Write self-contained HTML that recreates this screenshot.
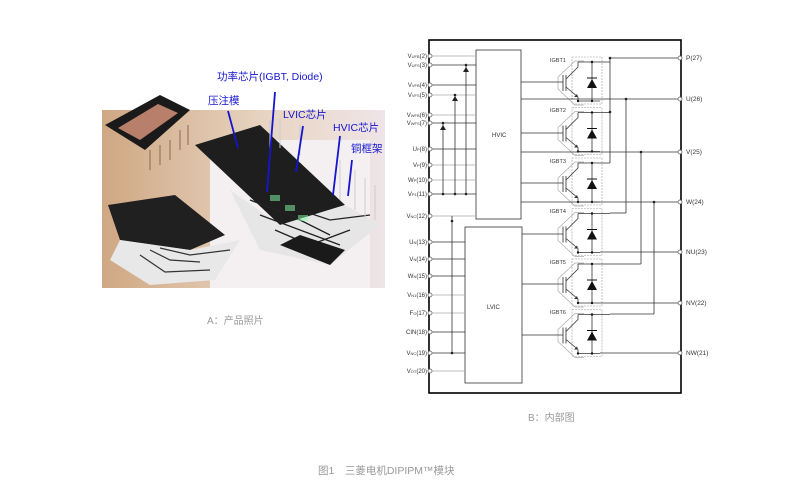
<!DOCTYPE html>
<html><head><meta charset="utf-8"><style>
body{margin:0;background:#fff;width:800px;height:492px;overflow:hidden;font-family:"Liberation Sans","Noto Sans CJK SC",sans-serif}
</style></head><body>
<svg width="800" height="492" xmlns="http://www.w3.org/2000/svg" font-family="Liberation Sans, Noto Sans CJK SC, sans-serif">
<defs>
<linearGradient id="bg" x1="0" y1="0" x2="1" y2="0">
<stop offset="0" stop-color="#cfa783"/><stop offset="0.6" stop-color="#e8d6c4"/><stop offset="1" stop-color="#efe4e8"/>
</linearGradient>
<g id="blk">
<rect x="572" y="0" width="30" height="47" fill="none" stroke="#999" stroke-width="0.6" stroke-dasharray="2,1"/>
<path d="M558 20 L575 4 L584 4 M558 20 L558 32 L575 48 L584 48" fill="none" stroke="#aaa" stroke-width="0.7"/>
<line x1="563" y1="18" x2="563" y2="34" stroke="#555" stroke-width="1"/>
<line x1="566" y1="18" x2="566" y2="34" stroke="#555" stroke-width="1"/>
<path d="M566 22 L578 10 L578 5 M566 30 L578 40 L578 44" fill="none" stroke="#333" stroke-width="0.8"/>
<polygon points="578,40 574,40 577,37" fill="#333"/>
<line x1="578" y1="5" x2="610" y2="5" stroke="#333" stroke-width="0.8"/>
<line x1="578" y1="44" x2="600" y2="44" stroke="#333" stroke-width="0.8"/>
<line x1="592" y1="5" x2="592" y2="44" stroke="#333" stroke-width="0.8"/>
<polygon points="587,31 597,31 592,22" fill="#111"/>
<line x1="587" y1="21" x2="597" y2="21" stroke="#111" stroke-width="1"/>
<circle cx="592" cy="5" r="1.2" fill="#111"/><circle cx="592" cy="44" r="1.2" fill="#111"/><circle cx="578" cy="44" r="1.2" fill="#111"/>
</g>
</defs>

<!-- Photo -->
<rect x="102" y="110" width="283" height="178" fill="url(#bg)"/>
<rect x="210" y="140" width="160" height="148" fill="#f4f0f2"/>
<polygon points="105,125 160,95 190,110 145,150" fill="#1a1a1a"/>
<polygon points="118,128 158,104 178,113 140,140" fill="#b8806a"/>
<g stroke="#8a6a4a" stroke-width="1"><line x1="150" y1="150" x2="150" y2="170"/><line x1="160" y1="145" x2="160" y2="165"/><line x1="170" y1="140" x2="170" y2="160"/><line x1="180" y1="130" x2="180" y2="150"/><line x1="188" y1="125" x2="188" y2="145"/></g>
<polygon points="108,205 175,195 225,235 190,250 120,240" fill="#202020"/>
<polygon points="120,240 190,250 240,240 215,280 150,285 110,260" fill="#e8e8e8"/>
<g stroke="#333" stroke-width="1.2" fill="none"><path d="M150 250 L170 260 L200 262"/><path d="M140 255 L165 272 L210 270"/><path d="M160 248 L190 255 L230 250"/></g>
<polygon points="195,145 260,125 345,205 280,225" fill="#1e1e1e"/>
<polygon points="230,190 280,225 345,205 380,225 330,265 260,250" fill="#e6e6e6"/>
<g stroke="#222" stroke-width="1.3" fill="none"><path d="M250 200 L290 215 L330 235"/><path d="M260 215 L300 230 L340 245"/><path d="M275 230 L310 245 L350 230"/><path d="M300 210 L330 220 L370 215"/></g>
<g fill="#8fa" opacity="0.5"><rect x="270" y="195" width="10" height="6"/><rect x="285" y="205" width="10" height="6"/><rect x="298" y="215" width="10" height="6"/></g>
<polygon points="280,245 330,265 345,250 300,235" fill="#1a1a1a"/>
<g stroke="#ccc" stroke-width="1"><line x1="270" y1="120" x2="270" y2="150"/><line x1="280" y1="118" x2="280" y2="148"/><line x1="300" y1="125" x2="300" y2="155"/><line x1="340" y1="160" x2="340" y2="200"/><line x1="355" y1="170" x2="355" y2="210"/><line x1="365" y1="178" x2="365" y2="218"/><line x1="375" y1="185" x2="375" y2="220"/></g>
<g stroke="#1515d0" stroke-width="1.8"><line x1="228" y1="111" x2="238" y2="148"/><line x1="275" y1="92" x2="267" y2="192"/><line x1="303" y1="126" x2="296" y2="172"/><line x1="340" y1="136" x2="333" y2="195"/><line x1="352" y1="160" x2="348" y2="196"/></g>
<g fill="#1515d0" font-size="10.5"><text x="217" y="80">功率芯片(IGBT, Diode)</text><text x="208" y="104">压注模</text><text x="283" y="118">LVIC芯片</text><text x="333" y="131">HVIC芯片</text><text x="351" y="152">铜框架</text></g>

<text x="207" y="324" font-size="10" fill="#999">A：产品照片</text>
<text x="528" y="421" font-size="10" fill="#999">B：内部图</text>
<text x="318" y="474" font-size="10.5" fill="#999">图1　三菱电机DIPIPM™模块</text>

<!-- Schematic -->
<rect x="429" y="40" width="252" height="353" fill="none" stroke="#000" stroke-width="1.6"/>
<rect x="476" y="50" width="45" height="169" fill="#fff" stroke="#333" stroke-width="0.8"/>
<rect x="465" y="227" width="57" height="156" fill="#fff" stroke="#333" stroke-width="0.8"/>
<text x="492" y="137" font-size="6" fill="#333">HVIC</text>
<text x="487" y="309" font-size="6" fill="#333">LVIC</text>

<g stroke="#aaa" stroke-width="0.8">
<line x1="430" y1="56" x2="476" y2="56"/><line x1="430" y1="95" x2="476" y2="95"/><line x1="430" y1="115" x2="476" y2="115"/>
<line x1="430" y1="165" x2="476" y2="165"/><line x1="430" y1="180" x2="476" y2="180"/><line x1="430" y1="216" x2="476" y2="216"/>
<line x1="430" y1="295" x2="465" y2="295"/><line x1="430" y1="313" x2="465" y2="313"/><line x1="430" y1="371" x2="465" y2="371"/>
</g>
<g stroke="#333" stroke-width="0.8">
<line x1="430" y1="65" x2="476" y2="65"/><line x1="430" y1="85" x2="476" y2="85"/><line x1="430" y1="123" x2="476" y2="123"/>
<line x1="430" y1="149" x2="476" y2="149"/><line x1="430" y1="194" x2="476" y2="194"/>
<line x1="430" y1="242" x2="465" y2="242"/><line x1="430" y1="259" x2="465" y2="259"/><line x1="430" y1="276" x2="465" y2="276"/>
<line x1="430" y1="332" x2="465" y2="332"/><line x1="430" y1="353" x2="465" y2="353"/>
<line x1="443" y1="123" x2="443" y2="194"/><line x1="455" y1="95" x2="455" y2="194"/><line x1="466" y1="65" x2="466" y2="194"/>
<line x1="452" y1="216" x2="452" y2="353"/>
</g>
<g fill="#222"><polygon points="463,72 469,72 466,67"/><polygon points="452,101 458,101 455,96"/><polygon points="440,130 446,130 443,125"/>
<circle cx="443" cy="194" r="1.3"/><circle cx="455" cy="194" r="1.3"/><circle cx="466" cy="194" r="1.3"/><circle cx="452" cy="221" r="1.3"/><circle cx="452" cy="353" r="1.3"/><circle cx="466" cy="65" r="1.3"/><circle cx="455" cy="95" r="1.3"/><circle cx="443" cy="123" r="1.3"/></g>

<g fill="#fff" stroke="#555" stroke-width="0.7">
<circle cx="430" cy="56" r="2"/><circle cx="430" cy="65" r="2"/><circle cx="430" cy="85" r="2"/><circle cx="430" cy="95" r="2"/><circle cx="430" cy="115" r="2"/><circle cx="430" cy="123" r="2"/><circle cx="430" cy="149" r="2"/><circle cx="430" cy="165" r="2"/><circle cx="430" cy="180" r="2"/><circle cx="430" cy="194" r="2"/><circle cx="430" cy="216" r="2"/><circle cx="430" cy="242" r="2"/><circle cx="430" cy="259" r="2"/><circle cx="430" cy="276" r="2"/><circle cx="430" cy="295" r="2"/><circle cx="430" cy="313" r="2"/><circle cx="430" cy="332" r="2"/><circle cx="430" cy="353" r="2"/><circle cx="430" cy="371" r="2"/>
</g>
<g font-size="6" fill="#333" text-anchor="end">
<text x="427" y="58">V<tspan font-size="4">UFB</tspan>(2)</text><text x="427" y="67">V<tspan font-size="4">UFS</tspan>(3)</text>
<text x="427" y="87">V<tspan font-size="4">VFB</tspan>(4)</text><text x="427" y="97">V<tspan font-size="4">VFS</tspan>(5)</text>
<text x="427" y="117">V<tspan font-size="4">WFB</tspan>(6)</text><text x="427" y="125">V<tspan font-size="4">WFS</tspan>(7)</text>
<text x="427" y="151">U<tspan font-size="4">P</tspan>(8)</text><text x="427" y="167">V<tspan font-size="4">P</tspan>(9)</text>
<text x="427" y="182">W<tspan font-size="4">P</tspan>(10)</text><text x="427" y="196">V<tspan font-size="4">P1</tspan>(11)</text>
<text x="427" y="218">V<tspan font-size="4">NC</tspan>(12)</text><text x="427" y="244">U<tspan font-size="4">N</tspan>(13)</text>
<text x="427" y="261">V<tspan font-size="4">N</tspan>(14)</text><text x="427" y="278">W<tspan font-size="4">N</tspan>(15)</text>
<text x="427" y="297">V<tspan font-size="4">N1</tspan>(16)</text><text x="427" y="315">F<tspan font-size="4">O</tspan>(17)</text>
<text x="427" y="334">CIN(18)</text><text x="427" y="355">V<tspan font-size="4">NC</tspan>(19)</text>
<text x="427" y="373">V<tspan font-size="4">OT</tspan>(20)</text>
</g>

<!-- IGBT blocks -->
<use href="#blk" y="57"/><use href="#blk" y="107.5"/><use href="#blk" y="158"/><use href="#blk" y="208.5"/><use href="#blk" y="259"/><use href="#blk" y="309.5"/>
<g font-size="5.5" fill="#333"><text x="550" y="62">IGBT1</text><text x="550" y="112">IGBT2</text><text x="550" y="163">IGBT3</text><text x="550" y="213">IGBT4</text><text x="550" y="264">IGBT5</text><text x="550" y="314">IGBT6</text></g>
<!-- gate lines -->
<g stroke="#333" stroke-width="0.8">
<line x1="521" y1="82" x2="563" y2="82"/><line x1="521" y1="133" x2="563" y2="133"/><line x1="521" y1="183" x2="563" y2="183"/>
<line x1="522" y1="234" x2="563" y2="234"/><line x1="522" y1="284" x2="563" y2="284"/><line x1="522" y1="335" x2="563" y2="335"/>
<line x1="610" y1="58" x2="680" y2="58"/><line x1="610" y1="58" x2="610" y2="163"/>
<line x1="521" y1="99" x2="680" y2="99"/><line x1="521" y1="152" x2="680" y2="152"/><line x1="521" y1="202" x2="680" y2="202"/>
<line x1="600" y1="252" x2="680" y2="252"/><line x1="600" y1="303" x2="680" y2="303"/><line x1="600" y1="353" x2="680" y2="353"/>
<line x1="626" y1="99" x2="626" y2="213"/><line x1="641" y1="152" x2="641" y2="264"/><line x1="654" y1="202" x2="654" y2="314"/>
<line x1="610" y1="213" x2="626" y2="213"/><line x1="610" y1="264" x2="641" y2="264"/><line x1="610" y1="314" x2="654" y2="314"/>
</g>
<g fill="#222"><circle cx="610" cy="58" r="1.3"/><circle cx="610" cy="112" r="1.3"/><circle cx="626" cy="99" r="1.3"/><circle cx="641" cy="152" r="1.3"/><circle cx="654" cy="202" r="1.3"/></g>
<g fill="#fff" stroke="#555" stroke-width="0.7"><circle cx="680" cy="58" r="2"/><circle cx="680" cy="99" r="2"/><circle cx="680" cy="152" r="2"/><circle cx="680" cy="202" r="2"/><circle cx="680" cy="252" r="2"/><circle cx="680" cy="303" r="2"/><circle cx="680" cy="353" r="2"/></g>
<g font-size="6.5" fill="#333"><text x="686" y="60">P(27)</text><text x="686" y="101">U(26)</text><text x="686" y="154">V(25)</text><text x="686" y="204">W(24)</text><text x="686" y="254">NU(23)</text><text x="686" y="305">NV(22)</text><text x="686" y="355">NW(21)</text></g>
</svg>
</body></html>
